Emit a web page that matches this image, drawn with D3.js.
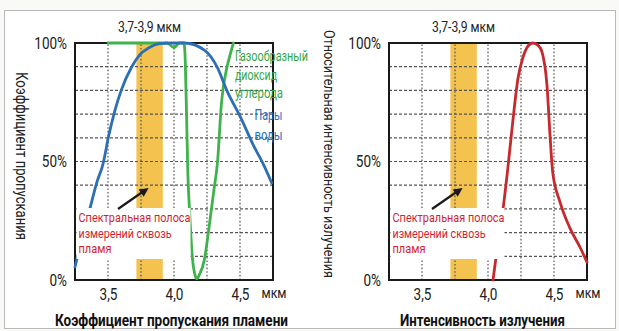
<!DOCTYPE html>
<html><head><meta charset="utf-8">
<script src="https://cdn.jsdelivr.net/npm/d3@7"></script>
<style>
html,body{margin:0;padding:0;background:#f9f9f8;}
svg{display:block;}
text{font-family:Roboto,"DejaVu Sans",sans-serif;}
</style></head><body>
<svg id="c" width="619" height="331"></svg>
<script>
// ---- data ----
const xTicks = [3.5, 4.0, 4.5];
const xTickLabels = ["3,5", "4,0", "4,5"];
const yTicks = [0, 50, 100];
const yTickLabels = ["0%", "50%", "100%"];
const band = [3.7, 3.9];

// water vapour transmission (blue)
const waterX = [3.25, 3.30, 3.36, 3.42, 3.46, 3.506, 3.55, 3.60, 3.68, 3.74, 3.81, 3.89, 3.98, 4.08, 4.23, 4.33, 4.40, 4.51, 4.60, 4.68, 4.74];
const waterY = [5.5, 17, 29.5, 42, 48.5, 61, 71, 80, 90, 95, 98, 99.7, 100, 100, 97, 89.5, 80, 68, 57, 48.5, 41];

// CO2 transmission (green)
const co2X = [3.50, 3.80, 3.95, 4.00, 4.04, 4.075, 4.085, 4.095, 4.105, 4.12, 4.14, 4.16, 4.175, 4.19, 4.23, 4.265, 4.30, 4.33, 4.36, 4.40, 4.43, 4.45];
const co2Y = [100, 100, 100, 98, 100, 100, 93, 70, 45, 27, 9, 2, 0.5, 2, 8.5, 22, 37, 50, 75, 89.5, 96, 100];

// relative radiation intensity (red)
const fireX = [4.038, 4.076, 4.114, 4.15, 4.19, 4.227, 4.265, 4.30, 4.34, 4.38, 4.41, 4.447, 4.47, 4.49, 4.545, 4.62, 4.70, 4.75];
const fireY = [0, 16, 30, 47, 68, 85, 94, 98.5, 100, 99, 96, 82, 61, 45.5, 33, 22, 13.5, 7.5];

const bandLabel = "3,7-3,9 мкм";
const unitLabel = "мкм";
const noteLines = ["Спектральная полоса", "измерений сквозь", "пламя"];
const co2Lines = ["Газообразный", "диоксид", "углерода"];
const waterLines = ["Пары", "воды"];

const svg = d3.select("#c");

// squeeze text to a condensed look of a given width
function fit(sel, w) {
  sel.attr("textLength", w).attr("lengthAdjust", "spacingAndGlyphs");
  return sel;
}
function squeeze(sel, k) {
  sel.each(function () {
    const n = this.getComputedTextLength();
    d3.select(this).attr("textLength", n * k).attr("lengthAdjust", "spacingAndGlyphs");
  });
}

// outer frame
svg.append("rect").attr("x", 4.5).attr("y", 10.5).attr("width", 611).attr("height", 318)
  .attr("fill", "#fff").attr("stroke", "#b8b8b8").attr("stroke-width", 1);

function panel(opt) {
  const x = d3.scaleLinear().domain([3.25, 4.75]).range([opt.left, opt.left + 198]);
  const y = d3.scaleLinear().domain([0, 100]).range([280, 43]);
  const g = svg.append("g");

  // band
  g.append("rect").attr("x", x(band[0]) + 2).attr("y", y(100))
    .attr("width", x(band[1]) - x(band[0])).attr("height", y(0) - y(100))
    .attr("fill", "#f3c24f");

  // grid
  const gx = d3.range(3.5, 4.76, 0.25).filter(v => v < 4.74);
  g.selectAll(".vg").data(gx).join("line")
    .attr("x1", d => x(d)).attr("x2", d => x(d)).attr("y1", y(0)).attr("y2", y(100))
    .attr("stroke", "#555").attr("stroke-width", 1.2).attr("stroke-dasharray", "1.6,2");
  const gy = d3.range(10, 100, 10);
  g.selectAll(".hg").data(gy).join("line")
    .attr("x1", x(3.25)).attr("x2", x(4.75)).attr("y1", d => y(d)).attr("y2", d => y(d))
    .attr("stroke", "#555").attr("stroke-width", 1.2).attr("stroke-dasharray", "3,2");

  // border
  g.append("rect").attr("x", x(3.25)).attr("y", y(100)).attr("width", x(4.75) - x(3.25))
    .attr("height", y(0) - y(100)).attr("fill", "none").attr("stroke", "#1a1a1a").attr("stroke-width", 2);

  // x axis labels
  const xa = d3.axisBottom(x).tickValues(xTicks).tickFormat((d, i) => xTickLabels[i]).tickSize(0).tickPadding(0);
  const ax = g.append("g").attr("transform", `translate(0,${y(0)})`).call(xa);
  ax.select(".domain").remove();
  ax.selectAll("text").attr("font-size", 16.5).attr("fill", "#222").attr("dy", null).attr("y", 20)
    .style("font-family", 'Roboto,"DejaVu Sans",sans-serif');
  squeeze(ax.selectAll("text"), 0.82);
  fit(g.append("text").attr("x", x(4.75) + 1).attr("y", 298).attr("text-anchor", "middle")
    .attr("font-size", 15).attr("fill", "#222").text(unitLabel), 25);

  // y axis labels
  const ya = d3.axisLeft(y).tickValues(yTicks).tickFormat((d, i) => yTickLabels[i]).tickSize(0).tickPadding(8);
  const ay = g.append("g").attr("transform", `translate(${x(3.25)},0)`).call(ya);
  ay.select(".domain").remove();
  ay.selectAll("text").attr("font-size", 16.5).attr("fill", "#222").attr("dy", null).attr("y", 5)
    .style("font-family", 'Roboto,"DejaVu Sans",sans-serif');
  squeeze(ay.selectAll("text"), 0.82);

  // band label
  fit(g.append("text").attr("x", x(3.8) + 2).attr("y", 31.5).attr("text-anchor", "middle")
    .attr("font-size", 14).attr("fill", "#222").text(bandLabel), 63);

  // y title
  fit(g.append("text").attr("transform", `translate(${opt.ytX},${opt.ytY}) rotate(90)`)
    .attr("text-anchor", "middle").attr("font-size", opt.ytF).attr("fill", "#222").text(opt.yTitle), opt.ytW);

  // bottom title
  fit(g.append("text").attr("x", opt.btX).attr("y", 326).attr("text-anchor", "middle")
    .attr("font-size", 16.5).attr("font-weight", "bold").attr("fill", "#111").text(opt.bTitle), opt.btW);

  // curves
  const line = d3.line().x(d => x(d[0])).y(d => y(d[1])).curve(d3.curveMonotoneX);
  opt.series.forEach(s => {
    g.append("path").datum(d3.zip(s.xs, s.ys)).attr("d", line)
      .attr("fill", "none").attr("stroke", s.color).attr("stroke-width", 2.8)
      .attr("stroke-linejoin", "round").attr("stroke-linecap", "round");
  });

  // annotation box + arrow
  const bx = x(3.25) + 1.5, by = 208;
  g.append("rect").attr("x", bx).attr("y", by).attr("width", 114).attr("height", 51).attr("fill", "#fff");
  const noteW = [112, 93, 33];
  noteLines.forEach((t, i) => {
    fit(g.append("text").attr("x", bx + 2).attr("y", by + 14 + i * 15.5).attr("font-size", 13.5)
      .attr("fill", "#d21f2f").text(t), noteW[i]);
  });
  const ax1 = x(3.25) + 43, ay1 = 209, ax2 = x(3.8) + 1, ay2 = 188;
  g.append("line").attr("x1", ax1).attr("y1", ay1).attr("x2", ax2 - 4).attr("y2", ay2 + 2.5)
    .attr("stroke", "#1a1a1a").attr("stroke-width", 2.2);
  const ang = Math.atan2(ay2 - ay1, ax2 - ax1);
  const hl = 9, hw = 4.5;
  const p = [[ax2, ay2],
    [ax2 - hl * Math.cos(ang) + hw * Math.sin(ang), ay2 - hl * Math.sin(ang) - hw * Math.cos(ang)],
    [ax2 - hl * Math.cos(ang) - hw * Math.sin(ang), ay2 - hl * Math.sin(ang) + hw * Math.cos(ang)]];
  g.append("polygon").attr("points", p.map(d => d.join(",")).join(" ")).attr("fill", "#1a1a1a");

  return {x, y, g};
}

const L = panel({
  left: 75, yTitle: "Коэффициент пропускания", ytX: 16, ytY: 156, ytW: 168, ytF: 16,
  bTitle: "Коэффициент пропускания пламени", btX: 171.5, btW: 233,
  series: [
    {xs: co2X, ys: co2Y, color: "#3fb24c"},
    {xs: waterX, ys: waterY, color: "#2d6fb4"}
  ]
});
// legend labels (left)
const co2W = [73, 42, 48];
co2Lines.forEach((t, i) => {
  fit(L.g.append("text").attr("x", 235).attr("y", 61 + i * 18.5).attr("font-size", 15.5)
    .attr("fill", "#2fa84a").text(t), co2W[i]);
});
waterLines.forEach((t, i) => {
  fit(L.g.append("text").attr("x", 254.5).attr("y", 120 + i * 19.5).attr("font-size", 15.5)
    .attr("fill", "#1e6fc0").text(t), 28);
});

const R = panel({
  left: 389, yTitle: "Относительная интенсивность излучения", ytX: 323.5, ytY: 154, ytW: 248, ytF: 14.5,
  bTitle: "Интенсивность излучения", btX: 482.5, btW: 165,
  series: [{xs: fireX, ys: fireY, color: "#c52a2e"}]
});
</script>
</body></html>
